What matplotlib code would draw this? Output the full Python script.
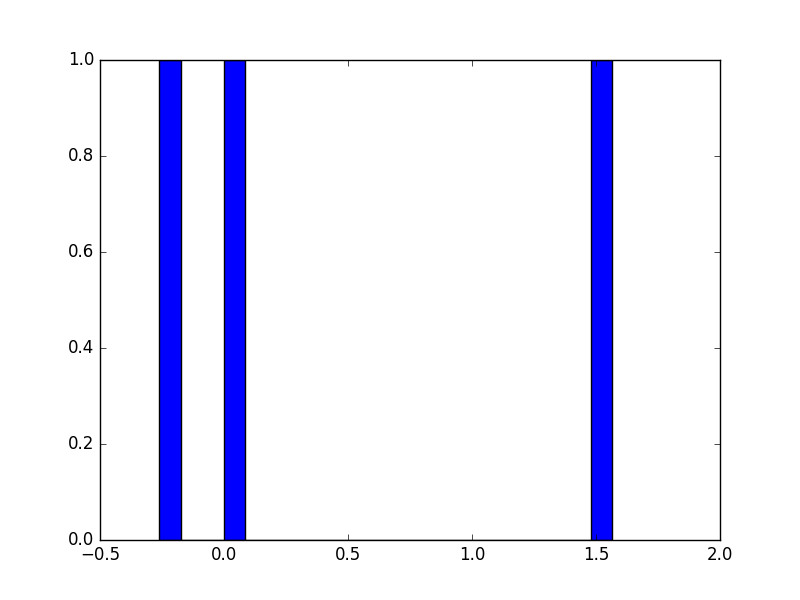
import matplotlib
matplotlib.use("Agg")
import matplotlib.pyplot as plt

plt.style.use("classic")

# valores da amostra
valores = [-0.262, 0.04, 1.565]
n_bins = 21

fig = plt.figure(figsize=(8, 6), dpi=100)
ax = fig.add_subplot(111)
ax.hist(valores, bins=n_bins)
ax.set_xlim(-0.5, 2.0)
ax.set_ylim(0, 1.0)

fig.savefig("out.png", dpi=100)
